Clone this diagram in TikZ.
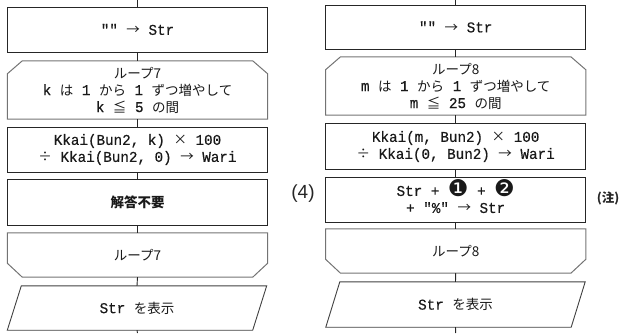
\documentclass[tikz,border=0pt]{standalone}
\usepackage{fontspec}
\usetikzlibrary{calc}
\newfontfamily\jp{Noto Sans CJK JP}
\newfontfamily\mono[FakeStretch=0.95,FakeBold=0.4]{Liberation Mono}
\newfontfamily\dv{DejaVu Sans}
\newfontfamily\lsans{Liberation Sans}
\newcommand{\J}[1]{{\jp\fontsize{13.5}{17}\selectfont #1}}
\newcommand{\C}[1]{\smash{\raisebox{-1pt}{\dv\fontsize{23}{17}\selectfont #1}}}
\newcommand{\A}{\J{→}}
\begin{document}
\begin{tikzpicture}[x=1pt,y=-1pt,
  box/.style={minimum width=260pt,inner sep=0pt,align=center,text=black!90,
    font=\mono\fontsize{15}{17}\selectfont},
  rectbox/.style={box,draw=black!85,line width=0.9pt},
  loopline/.style={draw=black!55,line width=1pt},
  paraline/.style={draw=black!75,line width=0.9pt},
  conn/.style={draw=black!85,line width=0.9pt}]
\useasboundingbox (0,0) rectangle (621,333);
% left column
\coordinate (lt) at (137.5,0);
\coordinate (lb) at (137.5,333);
\node[rectbox,minimum height=45pt] (L1) at (137.5,29.5) {"" \A{} Str};
\node[box,minimum height=58pt] (L2) at (137.5,90) {\J{ループ7}\\k \J{は} 1 \J{から} 1 \J{ずつ増やして}\\k \J{≦} 5 \J{の間}};
\node[rectbox,minimum height=45pt] (L3) at (137.5,149.5) {Kkai(Bun2, k) \J{×} 100\\\J{÷} Kkai(Bun2, 0) \A{} Wari};
\node[rectbox,minimum height=46pt] (L4) at (137.5,202) {\J{\bfseries 解答不要}};
\node[box,minimum height=44pt] (L5) at (137.5,255) {\J{ループ7}};
\node[box,minimum height=44pt,minimum width=259pt] (L6) at (137,308) {Str \J{を表示}};
% right column
\coordinate (rt) at (455.7,0);
\coordinate (rb) at (455.7,333);
\node[rectbox,minimum height=44pt] (R1) at (455.7,27) {"" \A{} Str};
\node[box,minimum height=58pt] (R2) at (455.7,86) {\J{ループ8}\\m \J{は} 1 \J{から} 1 \J{ずつ増やして}\\m \J{≦} 25 \J{の間}};
\node[rectbox,minimum height=46pt] (R3) at (455.7,146.5) {Kkai(m, Bun2) \J{×} 100\\\J{÷} Kkai(0, Bun2) \A{} Wari};
\node[rectbox,minimum height=45pt] (R4) at (455.7,199.5) {Str + \C{❶} + \C{❷}\\+ "\%" \A{} Str};
\node[box,minimum height=44pt] (R5) at (455.7,251) {\J{ループ8}};
\node[box,minimum height=45pt,minimum width=259pt] (R6) at (455.5,304.5) {Str \J{を表示}};
% labels
\node[font=\lsans\fontsize{19}{19}\selectfont,inner sep=0pt,text=black!85] (n4) at (303,194) {(4)};
\node[font=\jp\bfseries\fontsize{12.5}{12.5}\selectfont,inner sep=0pt,text=black!85] (note) at (608,198) {(注)};
% shapes
\foreach \n in {L2,R2}{
  \draw[loopline] (\n.south west) -- ($(\n.north west)+(0,13)$) -- ($(\n.north west)+(15,0)$)
    -- ($(\n.north east)+(-15,0)$) -- ($(\n.north east)+(0,13)$) -- (\n.south east) -- cycle;
}
\foreach \n in {L5,R5}{
  \draw[loopline] (\n.north west) -- ($(\n.south west)+(0,-14)$) -- ($(\n.south west)+(15,0)$)
    -- ($(\n.south east)+(-15,0)$) -- ($(\n.south east)+(0,-14)$) -- (\n.north east) -- cycle;
}
\foreach \n in {L6,R6}{
  \draw[paraline] ($(\n.north west)+(14,0)$) -- (\n.north east) -- ($(\n.south east)+(-14,0)$)
    -- (\n.south west) -- cycle;
}
% connectors
\draw[conn] (lt) -- (L1.north);
\draw[conn] (L1.south) -- (L2.north);
\draw[conn] (L2.south) -- (L3.north);
\draw[conn] (L3.south) -- (L4.north);
\draw[conn] (L4.south) -- (L5.north);
\draw[conn] (L5.south) -- (L6.north);
\draw[conn] (L6.south) -- (lb);
\draw[conn] (rt) -- (R1.north);
\draw[conn] (R1.south) -- (R2.north);
\draw[conn] (R2.south) -- (R3.north);
\draw[conn] (R3.south) -- (R4.north);
\draw[conn] (R4.south) -- (R5.north);
\draw[conn] (R5.south) -- (R6.north);
\draw[conn] (R6.south) -- (rb);
\end{tikzpicture}
\end{document}
